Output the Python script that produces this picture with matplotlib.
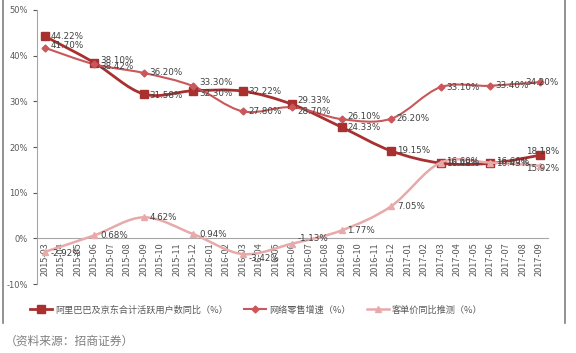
import matplotlib
matplotlib.use("Agg")
import matplotlib.pyplot as plt
from matplotlib.path import Path
from matplotlib.patches import PathPatch
from matplotlib.lines import Line2D
from matplotlib.ticker import FuncFormatter
import numpy as np

plt.rcParams["font.family"] = ["Noto Sans CJK SC", "DejaVu Sans"]

# 월별 카테고리 (2015-03 ~ 2017-09)
months = (
    ["2015-%02d" % m for m in range(3, 13)]
    + ["2016-%02d" % m for m in range(1, 13)]
    + ["2017-%02d" % m for m in range(1, 10)]
)
# 분기별 데이터 포인트 위치
point_months = ["2015-03", "2015-06", "2015-09", "2015-12", "2016-03", "2016-06",
                "2016-09", "2016-12", "2017-03", "2017-06", "2017-09"]

active_users = [44.22, 38.42, 31.58, 32.30, 32.22, 29.33, 24.33, 19.15, 16.48, 16.43, 18.18]
retail_growth = [41.70, 38.10, 36.20, 33.30, 27.80, 28.70, 26.10, 26.20, 33.10, 33.40, 34.20]
unit_price = [-2.92, 0.68, 4.62, 0.94, -3.42, -1.13, 1.77, 7.05, 16.60, 16.60, 15.92]

series_names = ["阿里巴巴及京东合计活跃用户数同比（%）", "网络零售增速（%）", "客单价同比推测（%）"]
colors = ["#A8302F", "#C8585A", "#E8A9AB"]
markers = ["s", "D", "^"]
marker_sizes = [5.5, 3.5, 5]
line_widths = [2.0, 1.5, 1.8]
label_dy = [
    [0, -3, -1, -2, 0, 3, 0, 0, 0, 0, 3],
    [2, 3, 0, 3, 0, -3, 2, 0, 0, 0, 0],
    [-1, 0, 0, 0, -3, 4, 0, 0, 1, 1, -2],
]


def smooth_path(xs, ys):
    """Excel 스타일 부드러운 곡선 (Catmull-Rom -> Bezier)"""
    pts = np.column_stack([xs, ys]).astype(float)
    n = len(pts)
    verts = [pts[0]]
    codes = [Path.MOVETO]
    for i in range(n - 1):
        p0 = pts[i - 1] if i > 0 else pts[i]
        p1 = pts[i]
        p2 = pts[i + 1]
        p3 = pts[i + 2] if i + 2 < n else pts[i + 1]
        c1 = p1 + (p2 - p0) / 6.0
        c2 = p2 - (p3 - p1) / 6.0
        verts += [c1, c2, p2]
        codes += [Path.CURVE4] * 3
    return Path(verts, codes)


fig = plt.figure(figsize=(5.76, 3.53), dpi=100)
ax = fig.add_axes([0.0638, 0.195, 0.8872, 0.777])

xs = [months.index(m) for m in point_months]
all_series = [active_users, retail_growth, unit_price]

for k in [2, 1, 0]:
    vals = all_series[k]
    patch = PathPatch(smooth_path(xs, vals), facecolor="none",
                      edgecolor=colors[k], lw=line_widths[k], zorder=2 + k)
    ax.add_patch(patch)
    ax.plot(xs, vals, ls="none", marker=markers[k], ms=marker_sizes[k],
            color=colors[k], zorder=3 + k)
    for j, (x, v) in enumerate(zip(xs, vals)):
        dx = -10 if j == len(xs) - 1 else 4
        ax.annotate("%.2f%%" % v, (x, v), xytext=(dx, label_dy[k][j]),
                    textcoords="offset points", ha="left", va="center",
                    fontsize=6.3, color="#404040", family=["DejaVu Sans"], zorder=10)

ax.set_xlim(-0.5, len(months) - 0.5)
ax.set_ylim(-10, 50)
ax.set_yticks(range(-10, 51, 10))
ax.yaxis.set_major_formatter(FuncFormatter(lambda v, p: "%d%%" % v))
ax.set_xticks(range(len(months)))
ax.set_xticklabels(months)
ax.tick_params(axis="y", labelsize=6, colors="#595959", length=3)
ax.tick_params(axis="x", length=0, pad=3, labelsize=6.6, labelcolor="#595959",
               labelrotation=90)
for lab in ax.get_yticklabels() + ax.get_xticklabels():
    lab.set_family(["DejaVu Sans"])

ax.spines["top"].set_visible(False)
ax.spines["right"].set_visible(False)
ax.spines["left"].set_color("#A6A6A6")
ax.spines["bottom"].set_position(("data", 0))
ax.spines["bottom"].set_color("#A6A6A6")

# 범례
handles = [
    Line2D([], [], color=colors[k], lw=line_widths[k], marker=markers[k],
           ms=marker_sizes[k])
    for k in range(3)
]
fig.legend(handles, series_names, loc="center", bbox_to_anchor=(0.445, 0.122),
           ncol=3, frameon=False, fontsize=6.6, handlelength=2.4,
           columnspacing=1.8, handletextpad=0.3, labelcolor="#595959")

# 바깥 테두리
fig.add_artist(Line2D([3 / 576, 3 / 576], [1, 1 - 323 / 353],
                      transform=fig.transFigure, color="#7F7F7F", lw=1.2))
fig.add_artist(Line2D([565 / 576, 565 / 576], [1, 1 - 323 / 353],
                      transform=fig.transFigure, color="#7F7F7F", lw=1.2))

fig.text(5 / 576, 1 - 341 / 353, "（资料来源：招商证券）", fontsize=8.5,
         color="#7F7F7F", va="center")

fig.savefig("out.png", dpi=100)
